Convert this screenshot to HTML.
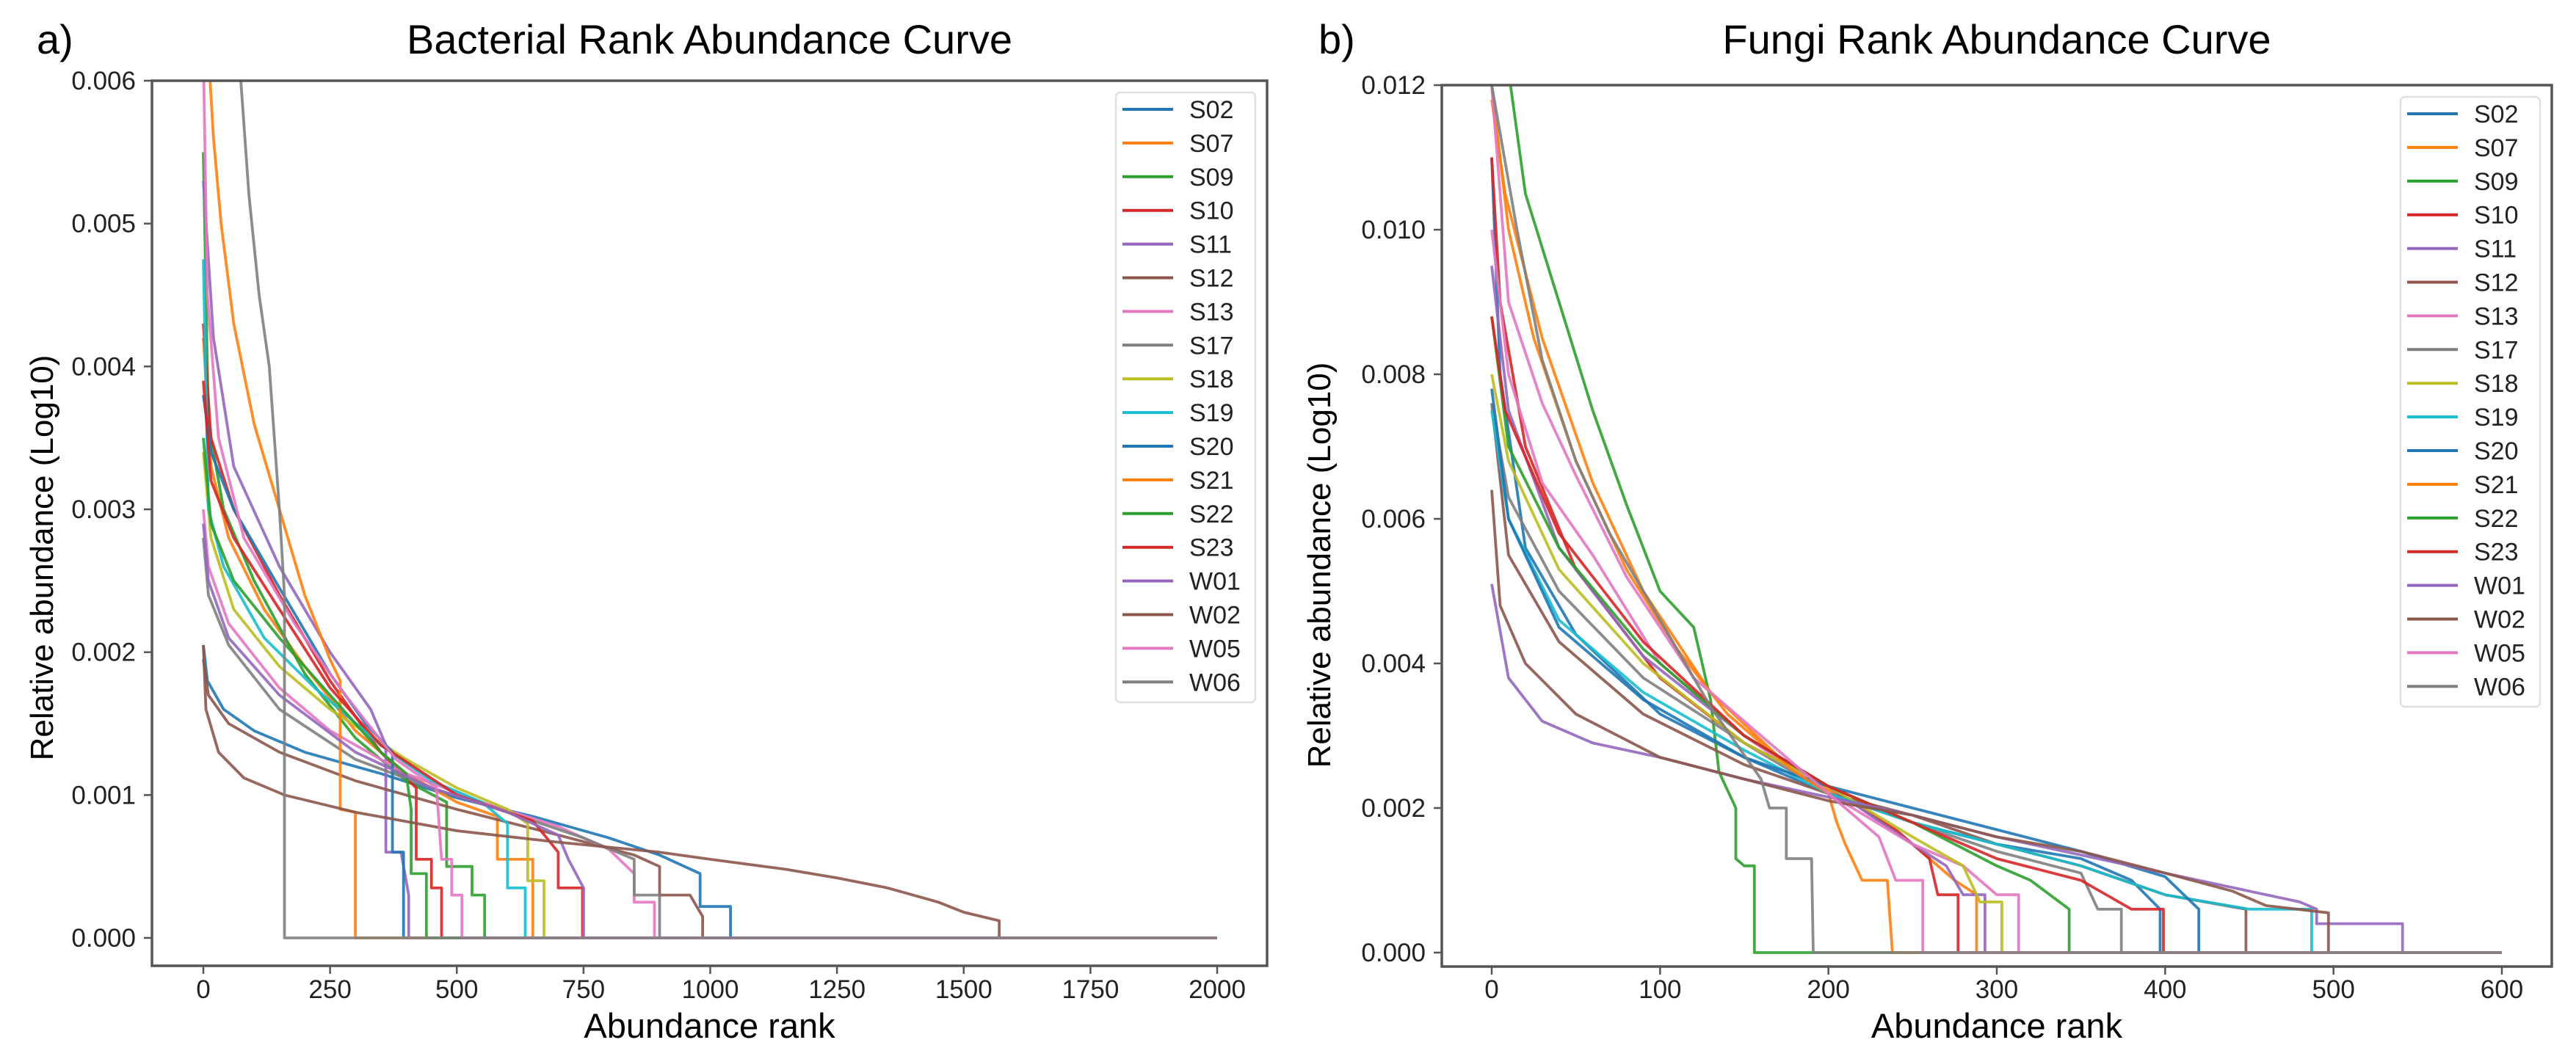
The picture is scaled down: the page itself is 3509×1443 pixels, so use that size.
<!DOCTYPE html>
<html><head><meta charset="utf-8">
<style>
html,body{margin:0;padding:0;background:#fff;}
svg{display:block;font-family:"Liberation Sans",sans-serif;}
</style></head>
<body>
<svg id="fig" width="3509" height="1443" viewBox="0 0 3509 1443" xmlns="http://www.w3.org/2000/svg">
<rect width="3509" height="1443" fill="#fff"/>
</svg>
<script>
const seriesNames = ["S02","S07","S09","S10","S11","S12","S13","S17","S18","S19","S20","S21","S22","S23","W01","W02","W05","W06"];
const seriesColors = ["#1f77b4","#ff7f0e","#2ca02c","#d62728","#9467bd","#8c564b","#e377c2","#7f7f7f","#bcbd22","#17becf","#1f77b4","#ff7f0e","#2ca02c","#d62728","#9467bd","#8c564b","#e377c2","#7f7f7f"];

// Panel a (bacteria): [rank, abundance*1000]
const bactS02 = [[0,2.05],[8,1.8],[40,1.6],[100,1.45],[200,1.3],[350,1.15],[500,0.98],[650,0.85],[800,0.7],[900,0.58],[980,0.45],[980,0.22],[1040,0.22],[1040,0],[2000,0]];
const bactS07 = [[0,4.2],[15,3.3],[50,2.8],[120,2.3],[200,1.9],[300,1.45],[400,1.15],[500,0.95],[580,0.85],[580,0.55],[650,0.55],[650,0],[2000,0]];
const bactS09 = [[0,5.5],[10,3.6],[40,3.0],[100,2.5],[200,1.85],[300,1.4],[400,1.1],[480,0.95],[480,0.5],[530,0.5],[530,0.3],[555,0.3],[555,0],[2000,0]];
const bactS10 = [[0,4.3],[15,3.5],[60,3.0],[150,2.4],[250,1.8],[350,1.3],[420,1.05],[420,0.55],[450,0.55],[450,0.35],[470,0.35],[470,0],[2000,0]];
const bactS11 = [[0,5.3],[20,4.2],[60,3.3],[150,2.6],[250,2.0],[330,1.6],[360,1.35],[360,0.6],[390,0.6],[405,0.3],[405,0],[2000,0]];
const bactS12 = [[0,1.95],[10,1.7],[50,1.5],[150,1.3],[300,1.1],[500,0.9],[700,0.72],[850,0.58],[900,0.5],[900,0.3],[960,0.3],[985,0.15],[985,0],[2000,0]];
const bactS13 = [[0,3.0],[10,2.6],[50,2.2],[150,1.75],[250,1.45],[400,1.15],[550,0.95],[700,0.78],[800,0.62],[850,0.45],[850,0.25],[890,0.25],[890,0],[2000,0]];
const bactS17 = [[0,2.8],[10,2.4],[50,2.05],[150,1.6],[300,1.25],[450,1.05],[600,0.88],[750,0.7],[850,0.55],[850,0.3],[900,0.3],[900,0],[2000,0]];
const bactS18 = [[0,3.4],[15,2.8],[60,2.3],[150,1.9],[250,1.6],[400,1.25],[500,1.05],[600,0.9],[640,0.8],[640,0.4],[672,0.4],[672,0],[2000,0]];
const bactS19 = [[0,4.75],[10,3.0],[40,2.6],[120,2.1],[220,1.75],[350,1.35],[450,1.1],[550,0.95],[600,0.8],[600,0.35],[635,0.35],[635,0],[2000,0]];
const bactS20 = [[0,3.8],[15,3.4],[60,3.0],[150,2.45],[250,1.85],[320,1.5],[373,1.3],[373,0.6],[395,0.6],[395,0],[2000,0]];
const bactS21 = [[10,6.2],[20,5.6],[35,5.0],[60,4.3],[100,3.6],[150,3.0],[200,2.4],[250,1.95],[270,1.8],[270,0.9],[300,0.88],[300,0],[2000,0]];
const bactS22 = [[0,3.5],[15,2.9],[60,2.5],[150,2.1],[250,1.7],[350,1.3],[400,1.15],[410,0.9],[410,0.45],[440,0.45],[440,0],[2000,0]];
const bactS23 = [[0,3.9],[15,3.2],[60,2.8],[150,2.3],[250,1.75],[350,1.35],[500,1.0],[650,0.82],[700,0.6],[700,0.35],[748,0.35],[748,0],[2000,0]];
const bactW01 = [[0,2.9],[10,2.5],[50,2.1],[150,1.7],[300,1.3],[450,1.05],[600,0.88],[700,0.72],[720,0.55],[750,0.35],[750,0],[2000,0]];
const bactW02 = [[0,2.05],[5,1.6],[30,1.3],[80,1.12],[160,1.0],[300,0.88],[500,0.75],[700,0.67],[900,0.6],[1000,0.55],[1150,0.48],[1250,0.42],[1350,0.35],[1450,0.25],[1500,0.18],[1570,0.12],[1570,0],[2000,0]];
const bactW05 = [[0,6.2],[8,4.5],[30,3.5],[80,2.8],[180,2.2],[280,1.7],[380,1.25],[460,1.05],[470,0.55],[490,0.55],[490,0.3],[510,0.3],[510,0],[2000,0]];
const bactW06 = [[70,6.2],[90,5.2],[110,4.5],[130,4.0],[150,3.0],[160,2.4],[160,0],[2000,0]];

// Panel b (fungi): [rank, abundance*1000]
const fungS02 = [[0,11],[5,8.0],[20,5.6],[50,4.4],[100,3.3],[150,2.7],[200,2.2],[250,1.8],[300,1.5],[350,1.3],[380,1.0],[397,0.6],[397,0],[600,0]];
const fungS07 = [[0,11.8],[8,10.5],[30,8.5],[60,6.5],[90,5.0],[130,3.6],[180,2.5],[220,2.0],[250,1.5],[275,1.0],[288,0.8],[288,0],[600,0]];
const fungS09 = [[10,12.2],[20,10.5],[40,9.0],[60,7.5],[80,6.2],[100,5.0],[120,4.5],[130,3.5],[135,2.5],[145,2.0],[145,1.3],[150,1.2],[156,1.2],[156,0],[600,0]];
const fungS10 = [[0,11],[5,9],[20,7],[50,5.3],[100,3.8],[150,2.9],[200,2.3],[240,1.7],[260,1.3],[265,0.8],[277,0.8],[277,0],[600,0]];
const fungS11 = [[0,9.5],[10,7.5],[40,5.6],[90,4.1],[150,3.0],[200,2.3],[250,1.5],[270,1.2],[280,0.8],[293,0.8],[293,0],[600,0]];
const fungS12 = [[0,7.6],[10,5.5],[40,4.3],[90,3.3],[150,2.6],[200,2.2],[250,1.9],[300,1.5],[350,1.2],[400,0.8],[448,0.6],[448,0],[600,0]];
const fungS13 = [[0,10],[10,8.0],[30,6.5],[60,5.5],[100,4.0],[150,3.0],[200,2.2],[250,1.5],[280,1.2],[300,0.8],[313,0.8],[313,0],[600,0]];
const fungS17 = [[0,7.6],[10,6.3],[40,5.0],[90,3.8],[150,2.9],[200,2.2],[250,1.8],[300,1.4],[350,1.1],[360,0.6],[374,0.6],[374,0],[600,0]];
const fungS18 = [[0,8.0],[10,6.8],[40,5.3],[90,4.0],[150,2.9],[200,2.3],[250,1.6],[280,1.2],[290,0.7],[303,0.7],[303,0],[600,0]];
const fungS19 = [[0,7.5],[10,6.0],[40,4.6],[90,3.6],[150,2.8],[200,2.2],[250,1.8],[300,1.5],[350,1.2],[400,0.8],[450,0.6],[487,0.6],[487,0],[600,0]];
const fungS20 = [[0,7.8],[10,6.0],[40,4.5],[90,3.5],[150,2.7],[200,2.3],[250,2.0],[300,1.7],[350,1.4],[400,1.05],[420,0.6],[420,0],[600,0]];
const fungS21 = [[0,12],[10,10],[25,8.5],[50,6.8],[80,5.3],[110,4.2],[140,3.3],[180,2.5],[200,2.2],[205,1.8],[210,1.5],[220,1.0],[235,1.0],[238,0],[600,0]];
const fungS22 = [[0,8.8],[10,7.0],[40,5.6],[90,4.2],[150,3.0],[200,2.3],[250,1.8],[300,1.2],[320,1.0],[343,0.6],[343,0],[600,0]];
const fungS23 = [[0,8.8],[8,7.5],[40,5.8],[90,4.3],[150,3.0],[200,2.3],[250,1.8],[300,1.3],[350,1.0],[380,0.6],[399,0.6],[399,0],[600,0]];
const fungW01 = [[0,5.1],[10,3.8],[30,3.2],[60,2.9],[100,2.7],[150,2.4],[200,2.15],[250,1.9],[300,1.6],[350,1.35],[400,1.1],[450,0.85],[480,0.7],[490,0.6],[490,0.4],[541,0.4],[541,0],[600,0]];
const fungW02 = [[0,6.4],[5,4.8],[20,4.0],[50,3.3],[100,2.7],[150,2.4],[200,2.1],[250,1.9],[300,1.6],[350,1.4],[400,1.1],[440,0.85],[460,0.65],[497,0.55],[497,0],[600,0]];
const fungW05 = [[0,12],[10,9.0],[30,7.6],[50,6.6],[80,5.2],[120,3.8],[170,2.8],[210,2.0],[230,1.6],[240,1.0],[256,1.0],[256,0],[600,0]];
const fungW06 = [[0,12],[15,10],[30,8.2],[50,6.8],[70,5.8],[90,5.0],[110,4.2],[130,3.4],[160,2.4],[165,2.0],[175,2.0],[175,1.3],[190,1.3],[191,0],[600,0]];

const bactXTicks = [0,250,500,750,1000,1250,1500,1750,2000];
const bactYTicks = [0,1,2,3,4,5,6];
const bactYLabels = ["0.000","0.001","0.002","0.003","0.004","0.005","0.006"];
const fungXTicks = [0,100,200,300,400,500,600];
const fungYTicks = [0,2,4,6,8,10,12];
const fungYLabels = ["0.000","0.002","0.004","0.006","0.008","0.010","0.012"];

const bactSeries = [bactS02,bactS07,bactS09,bactS10,bactS11,bactS12,bactS13,bactS17,bactS18,bactS19,bactS20,bactS21,bactS22,bactS23,bactW01,bactW02,bactW05,bactW06];
const fungSeries = [fungS02,fungS07,fungS09,fungS10,fungS11,fungS12,fungS13,fungS17,fungS18,fungS19,fungS20,fungS21,fungS22,fungS23,fungW01,fungW02,fungW05,fungW06];

const NS = "http://www.w3.org/2000/svg";
const svg = document.getElementById("fig");
function mk(tag, parent, attrs){
  const e = document.createElementNS(NS, tag);
  for (const k in attrs) e.setAttribute(k, attrs[k]);
  parent.appendChild(e);
  return e;
}

function drawPanel(cfg){
  const g = mk("g", svg, {});
  
  
  const L = cfg.left, R = cfg.right, T = cfg.top, B = cfg.bottom;
  const sx = v => cfg.x0 + (v - cfg.xmin) * (cfg.x1 - cfg.x0) / (cfg.xmax - cfg.xmin);
  const sy = v => cfg.y0 - (v - cfg.ymin) * (cfg.y0 - cfg.y1) / (cfg.ymax - cfg.ymin);

  const clipId = cfg.id + "-clip";
  const cp = mk("clipPath", svg, {id: clipId});
  mk("rect", cp, {x: L, y: T, width: R - L, height: B - T});

  const lines = mk("g", g, {"clip-path": "url(#" + clipId + ")"});
  
  
  cfg.series.forEach((pts, i) => {
    const d = pts.map((p, j) => (j ? "L" : "M") + sx(p[0]).toFixed(1) + " " + sy(p[1]).toFixed(1)).join(" ");
    const path = mk("path", lines, {d: d, fill: "none", stroke: seriesColors[i], "stroke-width": 3.8, "stroke-linejoin": "round", opacity: 0.9});
    
    
  });

  const frame = mk("rect", g, {x: L, y: T, width: R - L, height: B - T, fill: "none", stroke: "#555", "stroke-width": 3.5});
  
  

  cfg.xticks.forEach(t => {
    const x = sx(t);
    const tk = mk("line", g, {x1: x, y1: B, x2: x, y2: B + 11, stroke: "#555", "stroke-width": 2.5});
    
    
    const tx = mk("text", g, {x: x, y: 1360, "text-anchor": "middle", "font-size": 35, fill: "#222"});
    tx.textContent = String(t);
    
    
  });
  cfg.yticks.forEach((t, i) => {
    const y = sy(t);
    const tk = mk("line", g, {x1: L - 11, y1: y, x2: L, y2: y, stroke: "#555", "stroke-width": 2.5});
    
    
    const tx = mk("text", g, {x: L - 22, y: y + 12, "text-anchor": "end", "font-size": 35, fill: "#222"});
    tx.textContent = cfg.ylabels[i];
    
    
  });

  const title = mk("text", g, {x: (L + R) / 2, y: 73, "text-anchor": "middle", "font-size": 56, fill: "#000"});
  title.textContent = cfg.title;
  
  

  const tag = mk("text", g, {x: cfg.tagX, y: 73, "font-size": 56, fill: "#000"});
  tag.textContent = cfg.tag;
  
  

  const xl = mk("text", g, {x: (L + R) / 2, y: 1414, "text-anchor": "middle", "font-size": 47, fill: "#000"});
  xl.textContent = "Abundance rank";
  
  

  const yl = mk("text", g, {x: 0, y: 0, "text-anchor": "middle", "font-size": 44, fill: "#000", transform: "translate(" + cfg.ylabelX + "," + cfg.ylabelY + ") rotate(-90)"});
  yl.textContent = "Relative abundance (Log10)";
  
  

  // legend
  const lg = mk("g", g, {});
  
  
  const lx = R - 16 - 190, ly = T + 16;
  mk("rect", lg, {x: lx, y: ly, width: 190, height: 831, rx: 6, fill: "#fff", stroke: "#ddd", "stroke-width": 2.5, opacity: 0.9});
  seriesNames.forEach((n, i) => {
    const y = ly + 23 + i * 45.9;
    const e = mk("g", lg, {});
    
    
    mk("line", e, {x1: lx + 9, y1: y, x2: lx + 78, y2: y, stroke: seriesColors[i], "stroke-width": 4});
    const t = mk("text", e, {x: lx + 100, y: y + 12, "font-size": 34, fill: "#222"});
    t.textContent = n;
  });
}

drawPanel({id: "bacteria", title: "Bacterial Rank Abundance Curve", tag: "a)", tagX: 50,
  left: 207, right: 1726, top: 110, bottom: 1316,
  xmin: 0, xmax: 2000, x0: 277, x1: 1658, ymin: 0, ymax: 6, y0: 1278, y1: 110,
  xticks: bactXTicks, yticks: bactYTicks, ylabels: bactYLabels, series: bactSeries,
  ylabelX: 72, ylabelY: 760});
drawPanel({id: "fungi", title: "Fungi Rank Abundance Curve", tag: "b)", tagX: 1796,
  left: 1964, right: 3476, top: 116, bottom: 1317,
  xmin: 0, xmax: 600, x0: 2032, x1: 3408, ymin: 0, ymax: 12, y0: 1298, y1: 116,
  xticks: fungXTicks, yticks: fungYTicks, ylabels: fungYLabels, series: fungSeries,
  ylabelX: 1812, ylabelY: 770});
</script>
</body></html>
